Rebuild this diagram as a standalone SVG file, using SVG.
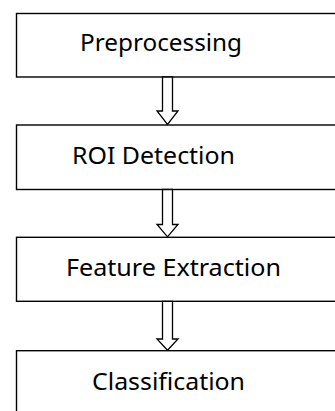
<svg xmlns="http://www.w3.org/2000/svg" width="335" height="411" viewBox="0 0 335 411">
  <style>
    .box { fill: #ffffff; stroke: #000000; stroke-width: 1.4; }
    .label { font-family: "Noto Sans", "Open Sans", "Liberation Sans", sans-serif; font-size: 23.5px; fill: #000000; }
    .arrow { fill: #ffffff; stroke: #000000; stroke-width: 1.3; stroke-linejoin: miter; }
  </style>
  <rect width="335" height="411" fill="#ffffff"/>

  <g id="preprocessing">
    <rect class="box" x="16.5" y="13.5" width="330" height="63.5"/>
    <text class="label" x="80" y="51" textLength="162" lengthAdjust="spacingAndGlyphs">Preprocessing</text>
  </g>

  <g id="roi-detection">
    <rect class="box" x="16.5" y="125" width="330" height="64.5"/>
    <text class="label" x="72" y="163.5" textLength="163" lengthAdjust="spacingAndGlyphs">ROI Detection</text>
  </g>

  <g id="feature-extraction">
    <rect class="box" x="16.5" y="237.3" width="330" height="64"/>
    <text class="label" x="66" y="276" textLength="215" lengthAdjust="spacingAndGlyphs">Feature Extraction</text>
  </g>

  <g id="classification">
    <rect class="box" x="16.5" y="350.7" width="330" height="80"/>
    <text class="label" x="92" y="390" textLength="153" lengthAdjust="spacingAndGlyphs">Classification</text>
  </g>

  <g id="connectors">
    <polygon class="arrow" points="162.5,77 172.5,77 172.5,111 178,111 167.5,124.5 157,111 162.5,111"/>
    <polygon class="arrow" points="162.5,189.5 172.5,189.5 172.5,224.5 178,224.5 167.5,236.8 157,224.5 162.5,224.5"/>
    <polygon class="arrow" points="162.5,301.3 172.5,301.3 172.5,339 178,339 167.5,350.2 157,339 162.5,339"/>
  </g>
</svg>
